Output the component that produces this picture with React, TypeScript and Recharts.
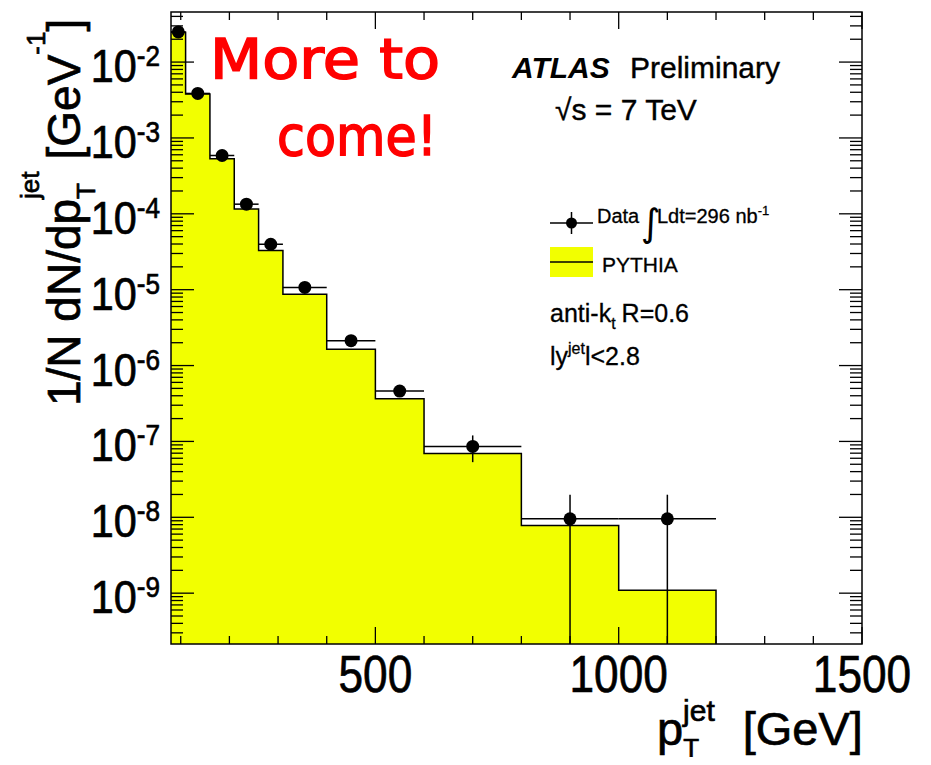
import React from 'react';
import { ComposedChart, Area, Scatter, ErrorBar, XAxis, YAxis } from 'recharts';

// ---- data ----
const binEdges = [80, 110, 160, 210, 260, 310, 400, 500, 600, 800, 1000, 1200];
const pythiaValues = [2.47e-2, 3.79e-3, 5.3e-4, 1.16e-4, 3.28e-5, 8.7e-6, 1.64e-6, 3.66e-7, 6.95e-8, 7.8e-9, 1.09e-9];
const dataValues = [2.5e-2, 3.86e-3, 5.87e-4, 1.34e-4, 3.97e-5, 1.07e-5, 2.13e-6, 4.61e-7, 8.6e-8, 9.55e-9, 9.55e-9];
const dataErrLow = [4e-4, 6e-5, 1e-5, 3e-6, 1.2e-6, 4e-7, 1.2e-7, 4e-8, 3.27e-8, 9.55e-9, 9.55e-9];
const dataErrHigh = [4e-4, 6e-5, 1e-5, 3e-6, 1.2e-6, 4e-7, 1.2e-7, 4e-8, 3.4e-8, 1.03e-8, 1.03e-8];
const xTickValues = [100, 200, 300, 400, 500, 600, 700, 800, 900, 1000, 1100, 1200, 1300, 1400, 1500];
const xLabelValues = [500, 1000, 1500];
const xLabelTexts = ['500', '1000', '1500'];
const yDecades = [-10, -9, -8, -7, -6, -5, -4, -3, -2, -1];
const yMultipliers = [1, 2, 3, 4, 5, 6, 7, 8, 9];

// ---- layout ----
const W = 931;
const H = 765;
const PLOT = { left: 171, right: 862, top: 12, bottom: 644 };
const X_DOMAIN: [number, number] = [80, 1500];
const Y_MIN = Math.pow(10, -9.67);
const Y_MAX = Math.pow(10, -1.34);
const FONT = '"Liberation Sans", Arial, Helvetica, sans-serif';
const YELLOW = '#f2ff00';

const yTickValues: number[] = [];
yDecades.forEach((d) =>
  yMultipliers.forEach((m) => {
    const v = m * Math.pow(10, d);
    if (v >= Y_MIN && v <= Y_MAX) yTickValues.push(v);
  })
);

const histRows = binEdges.map((e, i) => ({
  x: e,
  y: i < pythiaValues.length ? pythiaValues[i] : Y_MIN,
}));

const pointRows = dataValues.map((v, i) => ({
  x: (binEdges[i] + binEdges[i + 1]) / 2,
  y: v,
  ex: (binEdges[i + 1] - binEdges[i]) / 2,
  ey: [Math.min(dataErrLow[i], v - Y_MIN * 1.0001), dataErrHigh[i]],
}));

const bold = { stroke: '#000', strokeWidth: 0.7 };

function YTick(props: any) {
  const { y, payload } = props;
  const v = payload.value;
  const lg = Math.log10(v);
  const major = Math.abs(lg - Math.round(lg)) < 1e-6;
  const len = major ? 23 : 12;
  return (
    <g>
      <line x1={PLOT.left} x2={PLOT.left + len} y1={y} y2={y} stroke="#000" strokeWidth={1.3} />
      <line x1={PLOT.right - len} x2={PLOT.right} y1={y} y2={y} stroke="#000" strokeWidth={1.3} />
      {major && (
        <g transform={`translate(${PLOT.left - 11},${y + 20}) scale(0.9,1)`}>
          <text x={0} y={0} textAnchor="end" fontFamily={FONT} fontSize={46} fill="#000" {...bold}>
            10<tspan fontSize={29} dy={-16}>{`${Math.round(lg)}`}</tspan>
          </text>
        </g>
      )}
    </g>
  );
}

function XTick(props: any) {
  const { x, payload } = props;
  const v = payload.value;
  const idx = xLabelValues.indexOf(v);
  const major = idx >= 0;
  const len = major ? 17 : 8;
  return (
    <g>
      <line x1={x} x2={x} y1={PLOT.bottom} y2={PLOT.bottom - len} stroke="#000" strokeWidth={1.3} />
      <line x1={x} x2={x} y1={PLOT.top} y2={PLOT.top + len} stroke="#000" strokeWidth={1.3} />
      {major && (
        <g transform={`translate(${x},${PLOT.bottom + 48}) scale(0.85,1)`}>
          <text x={0} y={0} textAnchor="middle" fontFamily={FONT} fontSize={52} fill="#000" {...bold}>
            {xLabelTexts[idx]}
          </text>
        </g>
      )}
    </g>
  );
}

const Dot = (props: any) => <circle cx={props.cx} cy={props.cy} r={6.5} fill="#000" />;

function Overlay() {
  return (
    <svg width={W} height={H} style={{ position: 'absolute', left: 0, top: 0, pointerEvents: 'none' }}>
      {/* frame */}
      <rect x={PLOT.left} y={PLOT.top} width={PLOT.right - PLOT.left} height={PLOT.bottom - PLOT.top} fill="none" stroke="#000" strokeWidth={1.5} />

      {/* More to come */}
      <text x={210} y={78} fontFamily='"DejaVu Sans", sans-serif' fontSize={56} fill="#ff0000" stroke="#ff0000" strokeWidth={1.6} textLength={230} lengthAdjust="spacingAndGlyphs">More to</text>
      <text x={277} y={155} fontFamily='"DejaVu Sans", sans-serif' fontSize={56} fill="#ff0000" stroke="#ff0000" strokeWidth={1.6} textLength={160} lengthAdjust="spacingAndGlyphs">come!</text>

      {/* ATLAS label */}
      <text x={512} y={78} fontFamily={FONT} fontSize={30} fontWeight="bold" fontStyle="italic" fill="#000">ATLAS</text>
      <text x={630} y={78} fontFamily={FONT} fontSize={30} fill="#000" stroke="#000" strokeWidth={0.4}>Preliminary</text>
      <text x={555} y={120} fontFamily={FONT} fontSize={30} fill="#000" stroke="#000" strokeWidth={0.4}>√s = 7 TeV</text>

      {/* legend: data */}
      <line x1={550} x2={593} y1={223} y2={223} stroke="#000" strokeWidth={1.5} />
      <line x1={571.5} x2={571.5} y1={212} y2={234} stroke="#000" strokeWidth={1.5} />
      <circle cx={571.5} cy={223} r={5.5} fill="#000" />
      <text x={597} y={223} fontFamily={FONT} fontSize={20} fill="#000" stroke="#000" strokeWidth={0.3}>Data</text>
      <text x={641} y={236} fontFamily='"DejaVu Sans", sans-serif' fontSize={38} fill="#000">∫</text>
      <text x={657} y={223} fontFamily={FONT} fontSize={20} fill="#000" stroke="#000" strokeWidth={0.3}>
        Ldt=296 nb<tspan fontSize={13} dy={-8}>-1</tspan>
      </text>

      {/* legend: pythia */}
      <rect x={550} y={247} width={43} height={30} fill={YELLOW} />
      <line x1={550} x2={593} y1={262} y2={262} stroke="#000" strokeWidth={1.5} />
      <text x={602} y={272} fontFamily={FONT} fontSize={21} fill="#000" stroke="#000" strokeWidth={0.3}>PYTHIA</text>

      {/* algorithm text */}
      <text x={550} y={322} fontFamily={FONT} fontSize={25} fill="#000" stroke="#000" strokeWidth={0.3}>
        anti-k<tspan fontSize={16} dy={7}>t</tspan><tspan dy={-7} dx={6}>R=0.6</tspan>
      </text>
      <text x={550} y={365} fontFamily={FONT} fontSize={25} fill="#000" stroke="#000" strokeWidth={0.3}>
        ly<tspan fontSize={16} dy={-11}>jet</tspan><tspan dy={11}>l&lt;2.8</tspan>
      </text>

      {/* x title */}
      <text x={657} y={745} fontFamily={FONT} fontSize={47} fill="#000" {...bold}>
        p<tspan fontSize={26} dy={12}>T</tspan>
        <tspan fontSize={30} dx={-16} dy={-36}>jet</tspan>
        <tspan dx={28} dy={24}>[GeV]</tspan>
      </text>

      {/* y title */}
      <text transform="translate(80,406) rotate(-90)" fontFamily={FONT} fontSize={46} fill="#000" {...bold}>
        1/N dN/dp<tspan fontSize={26} dy={15}>T</tspan>
        <tspan fontSize={26} dx={-16} dy={-56}>jet</tspan>
        <tspan dx={12} dy={41}>[GeV</tspan>
        <tspan fontSize={26} dy={-35}>-1</tspan>
        <tspan dy={35}>]</tspan>
      </text>
    </svg>
  );
}

export default function App() {
  return (
    <div style={{ position: 'relative', width: W, height: H, margin: -8, background: '#fff' }}>
      <ComposedChart
        width={W}
        height={H}
        margin={{ top: PLOT.top, right: W - PLOT.right, bottom: 0, left: 0 }}
      >
        <Area
          data={histRows}
          dataKey="y"
          type="stepAfter"
          fill={YELLOW}
          fillOpacity={1}
          stroke="#000"
          strokeWidth={1.5}
          baseValue="dataMin"
          isAnimationActive={false}
          dot={false}
          activeDot={false}
        />
        <Scatter data={pointRows} dataKey="y" fill="#000" shape={Dot} isAnimationActive={false}>
          <ErrorBar dataKey="ey" direction="y" width={0} stroke="#000" strokeWidth={1.5} />
          <ErrorBar dataKey="ex" direction="x" width={0} stroke="#000" strokeWidth={1.5} />
        </Scatter>
        <XAxis
          type="number"
          dataKey="x"
          domain={X_DOMAIN}
          allowDataOverflow
          ticks={xTickValues}
          interval={0}
          tick={XTick}
          tickSize={0}
          tickMargin={0}
          axisLine={false}
          tickLine={false}
          height={H - PLOT.bottom}
        />
        <YAxis
          type="number"
          dataKey="y"
          scale="log"
          domain={[Y_MIN, Y_MAX]}
          allowDataOverflow
          ticks={yTickValues}
          interval={0}
          tick={YTick}
          tickSize={0}
          tickMargin={0}
          axisLine={false}
          tickLine={false}
          width={PLOT.left}
        />
      </ComposedChart>
      <Overlay />
    </div>
  );
}
